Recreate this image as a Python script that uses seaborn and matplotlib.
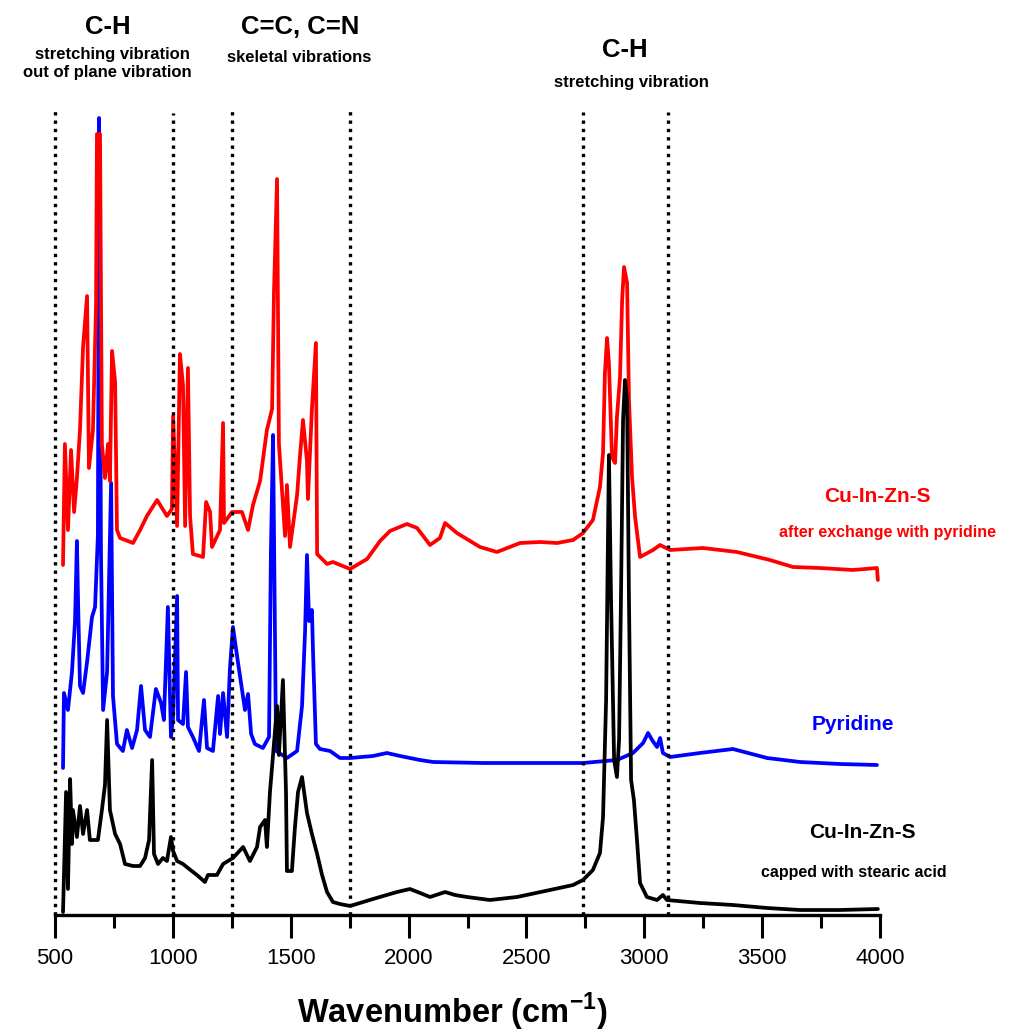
import numpy as np
import pandas as pd
import matplotlib.pyplot as plt
import seaborn as sns

# FTIR spectra: wavenumber (cm-1) and stacked intensity (arb. units)
red_wn = [534, 542, 555, 568, 581, 593, 606, 619, 636, 644, 661, 674, 678, 691, 699, 712,
          725, 733, 742, 755, 763, 776, 831, 861, 890, 933, 975, 996, 1001, 1018, 1030, 1043,
          1052, 1064, 1073, 1085, 1128, 1141, 1158, 1166, 1200, 1213, 1217, 1251, 1293, 1319,
          1340, 1370, 1399, 1421, 1429, 1442, 1450, 1476, 1484, 1497, 1527, 1539, 1552, 1569,
          1573, 1590, 1607, 1612, 1654, 1679, 1752, 1824, 1879, 1921, 1993, 2036, 2091, 2133,
          2155, 2205, 2303, 2375, 2473, 2558, 2630, 2698, 2740, 2782, 2812, 2825, 2833, 2842,
          2850, 2863, 2876, 2884, 2897, 2906, 2914, 2927, 2935, 2948, 2961, 2982, 3037, 3067,
          3109, 3249, 3393, 3533, 3631, 3745, 3885, 3987, 3991]
red_int = [350, 471, 385, 465, 403, 437, 485, 568, 619, 447, 485, 609, 781, 781, 471, 437,
           471, 434, 564, 533, 385, 377, 372, 385, 399, 415, 399, 406, 499, 389, 561, 530,
           389, 547, 399, 361, 358, 413, 403, 368, 385, 492, 392, 403, 403, 385,
           410, 434, 485, 506, 623, 736, 471, 379, 430, 368, 420, 458, 495, 454,
           416, 506, 572, 361, 351, 353, 346, 356, 374, 384, 391, 387, 370, 377,
           392, 382, 368, 363, 372, 373, 372, 375, 382, 395, 428, 462, 542, 577,
           552, 458, 452, 498, 538, 615, 648, 632, 515, 438, 398, 358, 365, 370,
           365, 367, 363, 355, 348, 347, 345, 347, 335]

blue_wn = [534, 538, 555, 572, 585, 593, 598, 606, 619, 636, 657, 670, 682, 687, 695, 704,
           721, 738, 746, 763, 788, 805, 827, 848, 865, 882, 903, 928, 950, 962, 979, 992,
           1001, 1018, 1022, 1043, 1056, 1064, 1085, 1111, 1132, 1145, 1170, 1192, 1200, 1213,
           1230, 1242, 1255, 1276, 1293, 1306, 1319, 1332, 1348, 1382, 1408, 1416, 1425, 1438,
           1484, 1527, 1548, 1561, 1569, 1578, 1590, 1595, 1607, 1624, 1667, 1709, 1752, 1849,
           1908, 1964, 2048, 2104, 2316, 2528, 2740, 2884, 2952, 2995, 3016, 3033, 3054, 3067,
           3079, 3109, 3236, 3376, 3521, 3661, 3830, 3987]
blue_int = [147, 222, 205, 243, 294, 374, 312, 229, 222, 253, 298, 308, 380, 797, 363, 205,
            243, 432, 219, 171, 164, 185, 167, 185, 229, 185, 178, 226, 212, 195, 308, 178,
            198, 319, 195, 191, 243, 188, 178, 164, 215, 167, 164, 219, 181, 222,
            178, 246, 288, 253, 226, 205, 221, 181, 171, 167, 178, 363, 480, 164,
            157, 164, 209, 284, 360, 294, 305, 260, 171, 166, 164, 157, 157, 159,
            162, 159, 155, 153, 152, 152, 152, 155, 162, 172, 182, 175, 168, 177,
            162, 158, 162, 166, 157, 153, 151, 150]

black_wn = [534, 547, 555, 564, 572, 576, 593, 606, 619, 636, 648, 682, 699, 712, 721, 733,
            755, 776, 797, 831, 861, 882, 899, 912, 920, 937, 958, 975, 992, 1001, 1018, 1043,
            1064, 1102, 1136, 1149, 1187, 1213, 1255, 1298, 1327, 1357, 1370, 1391, 1399, 1412,
            1425, 1442, 1450, 1467, 1480, 1484, 1505, 1518, 1531, 1548, 1569, 1590, 1612, 1633,
            1654, 1679, 1709, 1752, 1849, 1951, 2006, 2049, 2091, 2155, 2197, 2248, 2345, 2460,
            2600, 2698, 2740, 2782, 2812, 2825, 2838, 2850, 2859, 2872, 2884, 2893, 2901, 2910,
            2918, 2927, 2935, 2944, 2956, 2969, 2982, 3011, 3054, 3079, 3096, 3236, 3376, 3521,
            3661, 3830, 3991]
black_int = [3, 123, 26, 136, 71, 105, 78, 109, 81, 105, 75, 75, 105, 130, 195, 105,
             81, 71, 51, 49, 49, 57, 75, 155, 61, 51, 57, 54, 78, 64, 54, 51,
             47, 40, 33, 40, 40, 51, 57, 68, 54, 68, 88, 95, 68, 123,
             160, 209, 160, 235, 123, 44, 44, 88, 123, 138, 102, 81, 61, 40,
             23, 13, 11, 9, 16, 23, 26, 22, 18, 23, 20, 18, 15, 18,
             25, 30, 35, 45, 62, 98, 215, 460, 315, 155, 138, 175, 315, 495,
             535, 515, 315, 135, 115, 75, 32, 18, 15, 20, 15, 12, 10, 7,
             5, 5, 6]

band_edges = [500, 1000, 1250, 1750, 2740, 3100]
band_tops = [808, 802, 804, 805, 803, 803]

W, H = 1012, 1035


def px(x, y):
    return x / W, 1 - y / H


sns.set_theme(style="white")
plt.rcParams['font.family'] = ['Liberation Sans', 'DejaVu Sans']
plt.rcParams['text.color'] = 'black'
plt.rcParams['xtick.color'] = 'black'
plt.rcParams['mathtext.fontset'] = 'custom'
plt.rcParams['mathtext.bf'] = 'Liberation Sans:bold'
plt.rcParams['mathtext.rm'] = 'Liberation Sans'

fig = plt.figure(figsize=(W / 100, H / 100), dpi=100)
ax = fig.add_axes([55 / W, 1 - 915 / H, 825 / W, 815 / H])

spectra = [
    (blue_wn, blue_int, "#0000ff", 2),
    (red_wn, red_int, "#ff0000", 3),
    (black_wn, black_int, "#000000", 4),
]
for wn, inten, col, z in spectra:
    df = pd.DataFrame({"wn": wn, "I": inten})
    sns.lineplot(data=df, x="wn", y="I", ax=ax, color=col, lw=2.7,
                 estimator=None, sort=False, legend=False, zorder=z)

for xe, top in zip(band_edges, band_tops):
    ax.plot([xe, xe], [0, top], color="black", lw=2.4,
            linestyle=(0, (1, 1.5)), zorder=5, clip_on=False)

ax.set_xlim(500, 4000)
ax.set_ylim(0, 815)
ax.set_yticks([])
for s in ["top", "right", "left"]:
    ax.spines[s].set_visible(False)
ax.spines["bottom"].set_linewidth(2.4)
ax.spines["bottom"].set_color("black")
ax.set_xticks(np.arange(500, 4001, 500))
ax.set_xticks(np.arange(750, 4000, 500), minor=True)
ax.tick_params(axis="x", which="major", direction="out", length=16.5, width=2.2,
               color="black", labelcolor="black", labelsize=16, pad=7, bottom=True)
ax.tick_params(axis="x", which="minor", direction="out", length=9.5, width=2.2,
               color="black", bottom=True)
ax.set_ylabel("")
ax.set_xlabel("")
fig.text(*px(452, 1012), r'Wavenumber (cm$^{\mathbf{-1}}$)', ha="center", va="center",
         fontsize=23.5, fontweight="bold", color="black")

# band annotations
fig.text(*px(108, 27), "C-H", ha="center", va="center", fontsize=18.5, fontweight="bold")
fig.text(*px(112, 55), "stretching vibration", ha="center", va="center", fontsize=12, fontweight="bold")
fig.text(*px(107, 72), "out of plane vibration", ha="center", va="center", fontsize=12, fontweight="bold")
fig.text(*px(300, 27), "C=C, C=N", ha="center", va="center", fontsize=18.5, fontweight="bold")
fig.text(*px(299, 58), "skeletal vibrations", ha="center", va="center", fontsize=12, fontweight="bold")
fig.text(*px(625, 50), "C-H", ha="center", va="center", fontsize=18.5, fontweight="bold")
fig.text(*px(631, 83), "stretching vibration", ha="center", va="center", fontsize=12, fontweight="bold")

# spectrum labels
fig.text(*px(877, 497), "Cu-In-Zn-S", ha="center", va="center", fontsize=15, fontweight="bold", color="#ff0000")
fig.text(*px(888, 532), "after exchange with pyridine", ha="center", va="center", fontsize=11.5,
         fontweight="bold", color="#ff0000")
fig.text(*px(853, 725), "Pyridine", ha="center", va="center", fontsize=15, fontweight="bold", color="#0000ff")
fig.text(*px(862, 832), "Cu-In-Zn-S", ha="center", va="center", fontsize=15, fontweight="bold", color="black")
fig.text(*px(854, 873), "capped with stearic acid", ha="center", va="center", fontsize=11.5,
         fontweight="bold", color="black")

fig.savefig("out.png", dpi=100, facecolor="white")
